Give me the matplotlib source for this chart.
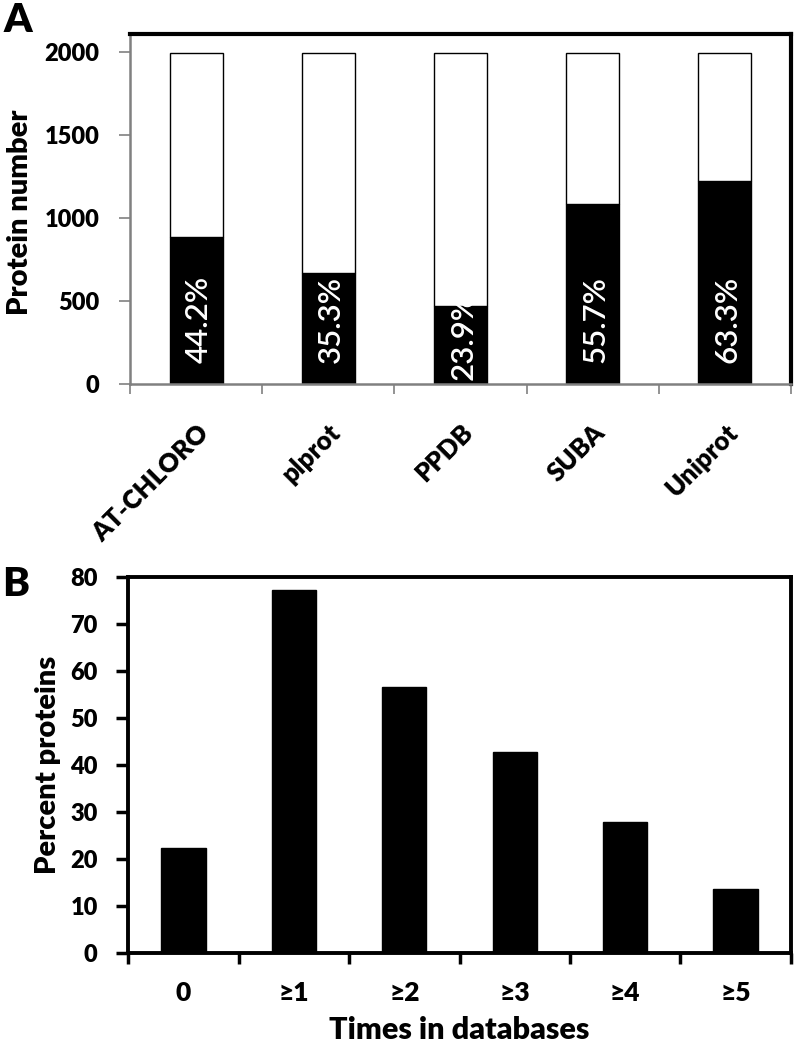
import numpy as np
import matplotlib
matplotlib.use("Agg")
import matplotlib.pyplot as plt
from matplotlib.ticker import FixedLocator

plt.rcParams['font.family'] = ['Lato', 'DejaVu Sans']
plt.rcParams['font.weight'] = 'heavy'

# Panel A data: proteins found per database
databases = ['AT-CHLORO', 'plprot', 'PPDB', 'SUBA', 'Uniprot']
found = [889, 668, 471, 1086, 1227]
total = [1995, 1995, 1995, 1995, 1995]
found_pct = ['44.2%', '35.3%', '23.9%', '55.7%', '63.3%']

# Panel B data: percent of proteins by number of databases
times_labels = ['0', '≥1', '≥2', '≥3', '≥4', '≥5']
percent = [22.3, 77.4, 56.7, 42.8, 28.0, 13.7]

W, H = 797, 1048
fig = plt.figure(figsize=(W / 100, H / 100), dpi=100)
WEIGHT = 'heavy'

# ---------------- Panel A ----------------
axA = fig.add_axes([130 / W, 1 - 384 / H, 661 / W, 350 / H])
x = np.arange(len(databases))
rest = np.array(total) - np.array(found)
axA.bar(x, found, width=0.4, color='black', edgecolor='black', linewidth=1)
axA.bar(x, rest, bottom=found, width=0.4, color='white', edgecolor='black', linewidth=1)

# bottom of the rotated labels; PPDB sits lower like in the original
label_bottom = [128, 128, 22, 128, 128]
for xi, txt, yb in zip(x, found_pct, label_bottom):
    axA.text(xi + 0.02, yb, txt, rotation=90, color='white', ha='center', va='bottom',
             fontsize=22.5, fontweight='semibold')

axA.set_xlim(-0.5, len(databases) - 0.5)
axA.set_ylim(0, 2111)
axA.set_yticks([0, 500, 1000, 1500, 2000])
axA.set_xticks(x)
axA.set_xticklabels(databases, rotation=45, ha='right', rotation_mode='anchor',
                    fontsize=18.5, fontweight=WEIGHT)
axA.xaxis.set_minor_locator(FixedLocator(np.arange(-0.5, len(databases), 1.0)))
axA.tick_params(axis='x', which='major', length=0, pad=26)
axA.tick_params(axis='x', which='minor', direction='out', length=7, color='#808080', width=1.2)
axA.tick_params(axis='y', direction='out', length=8, color='#808080', width=1.2,
                labelsize=17, pad=14)
for lab in axA.get_yticklabels():
    lab.set_fontweight(WEIGHT)
for side in ['left', 'bottom']:
    axA.spines[side].set_color('#808080')
    axA.spines[side].set_linewidth(1.8)
for side in ['top', 'right']:
    axA.spines[side].set_color('black')
    axA.spines[side].set_linewidth(3)
axA.set_ylabel('Protein number', fontsize=21, fontweight=WEIGHT, va='center')
axA.yaxis.set_label_coords(-0.167, 0.49)

# ---------------- Panel B ----------------
axB = fig.add_axes([128.3 / W, 1 - 953.3 / H, 662.4 / W, 376 / H])
xb = np.arange(len(times_labels))
axB.bar(xb, percent, width=0.4, color='black', edgecolor='black')
axB.set_xlim(-0.5, len(times_labels) - 0.5)
axB.set_ylim(0, 80)
axB.set_yticks(np.arange(0, 81, 10))
axB.set_xticks(xb)
axB.set_xticklabels(times_labels, fontsize=19, fontweight=WEIGHT)
axB.xaxis.set_minor_locator(FixedLocator(np.arange(-0.5, len(times_labels), 1.0)))
axB.tick_params(axis='x', which='major', length=0, pad=20)
axB.tick_params(axis='x', which='minor', direction='out', length=8, color='black', width=2.5)
axB.tick_params(axis='y', direction='out', length=9, color='black', width=2.5,
                labelsize=17, pad=13)
for lab in axB.get_yticklabels():
    lab.set_fontweight(WEIGHT)
for side in ['left', 'bottom', 'top', 'right']:
    axB.spines[side].set_color('black')
    axB.spines[side].set_linewidth(2.8)
axB.set_ylabel('Percent proteins', fontsize=21, fontweight=WEIGHT, va='center')
axB.yaxis.set_label_coords(-0.121, 0.5)
axB.set_xlabel('Times in databases', fontsize=22, fontweight=WEIGHT, va='center')
axB.xaxis.set_label_coords(0.5, -0.204)

# panel letters
fig.text(4 / W, 1 - 2 / H, 'A', fontsize=29, fontweight=WEIGHT, ha='left', va='top')
fig.text(2 / W, 1 - 566 / H, 'B', fontsize=29, fontweight=WEIGHT, ha='left', va='top')

fig.savefig('out.png', dpi=100)
